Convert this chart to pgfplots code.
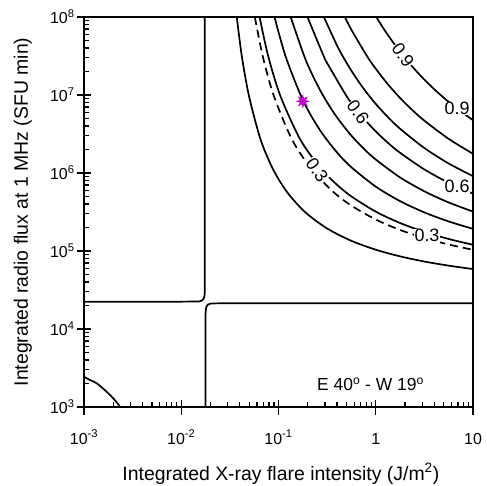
\documentclass[border=0pt]{standalone}
\usepackage{pgfplots}
\pgfplotsset{compat=1.18}
\usepackage{fontspec}
\setmainfont{Liberation Sans}
\definecolor{starmag}{RGB}{190,0,200}
\pgfdeclareplotmark{burst}{%
 \pgfpathmoveto{\pgfpointpolar{0}{\pgfplotmarksize}}%
 \pgfpathlineto{\pgfpointpolar{22.5}{0.45\pgfplotmarksize}}%
 \pgfpathlineto{\pgfpointpolar{45}{\pgfplotmarksize}}%
 \pgfpathlineto{\pgfpointpolar{67.5}{0.45\pgfplotmarksize}}%
 \pgfpathlineto{\pgfpointpolar{90}{\pgfplotmarksize}}%
 \pgfpathlineto{\pgfpointpolar{112.5}{0.45\pgfplotmarksize}}%
 \pgfpathlineto{\pgfpointpolar{135}{\pgfplotmarksize}}%
 \pgfpathlineto{\pgfpointpolar{157.5}{0.45\pgfplotmarksize}}%
 \pgfpathlineto{\pgfpointpolar{180}{\pgfplotmarksize}}%
 \pgfpathlineto{\pgfpointpolar{202.5}{0.45\pgfplotmarksize}}%
 \pgfpathlineto{\pgfpointpolar{225}{\pgfplotmarksize}}%
 \pgfpathlineto{\pgfpointpolar{247.5}{0.45\pgfplotmarksize}}%
 \pgfpathlineto{\pgfpointpolar{270}{\pgfplotmarksize}}%
 \pgfpathlineto{\pgfpointpolar{292.5}{0.45\pgfplotmarksize}}%
 \pgfpathlineto{\pgfpointpolar{315}{\pgfplotmarksize}}%
 \pgfpathlineto{\pgfpointpolar{337.5}{0.45\pgfplotmarksize}}%
 \pgfpathclose
 \pgfusepathqfillstroke}
\begin{document}
\begin{tikzpicture}
\begin{axis}[
 xmode=log, ymode=log,
 scale only axis, width=389bp, height=390bp,
 xmin=1e-3, xmax=10, ymin=1e3, ymax=1e8,
 axis on top,
 xtick={1e-3,1e-2,1e-1,1,10},
 xticklabels={10\textsuperscript{-3},10\textsuperscript{-2},10\textsuperscript{-1},1,10},
 ytick={1e3,1e4,1e5,1e6,1e7,1e8},
 yticklabels={10\textsuperscript{3},10\textsuperscript{4},10\textsuperscript{5},10\textsuperscript{6},10\textsuperscript{7},10\textsuperscript{8}},
 minor xtick={2e-3,3e-3,4e-3,5e-3,6e-3,7e-3,8e-3,9e-3,2e-2,3e-2,4e-2,5e-2,6e-2,7e-2,8e-2,9e-2,0.2,0.3,0.4,0.5,0.6,0.7,0.8,0.9,2,3,4,5,6,7,8,9},
 minor ytick={2e3,3e3,4e3,5e3,6e3,7e3,8e3,9e3,2e4,3e4,4e4,5e4,6e4,7e4,8e4,9e4,2e5,3e5,4e5,5e5,6e5,7e5,8e5,9e5,2e6,3e6,4e6,5e6,6e6,7e6,8e6,9e6,2e7,3e7,4e7,5e7,6e7,7e7,8e7,9e7},
 tick pos=left, tick align=inside,
 major tick length=7.5bp, minor tick length=5bp,
 every tick/.style={black, line width=1.3bp},
 extra x ticks={1e-3,1e-2,1e-1,1,10}, extra x tick labels={},
 extra x tick style={tick align=outside},
 extra y ticks={1e3,1e4,1e5,1e6,1e7,1e8}, extra y tick labels={},
 extra y tick style={tick align=outside},
 axis line style={line width=1.8bp},
 ticklabel style={font=\fontsize{16}{19}\selectfont},
 xticklabel style={anchor=base, yshift=-37bp},
 yticklabel style={xshift=-6bp},
 label style={font=\fontsize{19.5}{23}\selectfont},
 xlabel={Integrated X-ray flare intensity (J/m\textsuperscript{2})},
 ylabel={Integrated radio flux at 1 MHz (SFU min)},
 xlabel style={at={(axis description cs:0.506,-0.1872)}, anchor=base},
 ylabel style={at={(axis description cs:-0.144,0.5)}, anchor=base},
 ctr/.style={black, line width=1.7bp, smooth},
 brk/.style={black, line width=1.7bp},
]
% saddle contour, upper-left branch
\addplot[brk] coordinates {(0.001,22387) (0.010,22420) (0.015222,22522) (0.016346,23195) (0.017057,24604) (0.017338,26485) (0.01746,29785) (0.01748,42462) (0.01748,1e8)};
% saddle contour, lower-right branch
\addplot[brk] coordinates {(0.017758,1000) (0.017758,15104) (0.017882,17523) (0.01818,19432) (0.01884,20612) (0.02023,21228) (0.02503,21356) (10,21356)};
% lower-left corner contour
\addplot[ctr] coordinates {(0.001,2443) (0.001152,2219) (0.001352,2014) (0.00171,1570) (0.002,1291) (0.002307,1040) (0.002335,1000)};
% 0.2
\addplot[ctr] coordinates {(0.03724,1e8) (0.04193,3.162e7) (0.04945,1e7) (0.0628,3.162e6) (0.07418,1.778e6) (0.09204,1e6) (0.12337,5.623e5) (0.18717,3.162e5) (0.3162,1.944e5) (0.5623,1.35e5) (1,1.039e5) (1.778,8.54e4) (3.162,7.33e4) (5.623,6.49e4) (10,5.87e4)};
% dashed
\addplot[ctr, dash pattern=on 8bp off 5bp] coordinates {(0.05711,1e8) (0.0688,3.162e7) (0.08888,1e7) (0.12924,3.162e6) (0.16769,1.778e6) (0.2353,1e6) (0.3720,5.623e5) (0.5623,3.812e5) (1,2.532e5) (1.778,1.8625e5) (3.162,1.4665e5) (5.623,1.211e5) (10,1.0354e5)};
% 0.3
\addplot[ctr] coordinates {(0.06386,1e8) (0.07831,3.162e7) (0.10366,1e7) (0.15617,3.162e6) (0.2077,1.778e6) (0.3009,1e6) (0.3981,7.088e5) (0.5623,5.004e5) (1,3.197e5) (1.778,2.2845e5) (3.162,1.7588e5) (5.623,1.426e5) (10,1.2014e5)};
% 0.4
\addplot[ctr] coordinates {(0.09093,1e8) (0.11792,3.162e7) (0.16854,1e7) (0.21296,5.623e6) (0.28406,3.162e6) (0.40842,1.778e6) (0.5623,1.1836e6) (1,6.691e5) (1.778,4.36e5) (3.162,3.125e5) (5.623,2.393e5) (10,1.923e5)};
% 0.5
\addplot[ctr] coordinates {(0.13338,1e8) (0.18374,3.162e7) (0.2247,1.778e7) (0.28537,1e7) (0.3808,5.623e6) (0.5431,3.162e6) (0.7499,2.060e6) (1,1.489e6) (1.778,8.782e5) (3.162,5.824e5) (5.623,4.191e5) (10,3.202e5)};
% 0.6
\addplot[ctr] coordinates {(0.19848,1e8) (0.29114,3.162e7) (0.3162,2.567e7) (0.49295,1e7) (0.5623,7.92e6) (0.7499,5.036e6) (1,3.415e6) (1.3335,2.439e6) (1.778,1.816e6) (3.162,1.111e6) (5.623,7.497e5) (10,5.434e5)};
% 0.7
\addplot[ctr] coordinates {(0.29282,1e8) (0.3981,4.356e7) (0.45666,3.162e7) (0.5623,2.041e7) (0.7499,1.207e7) (1,7.691e6) (1.3335,5.204e6) (1.778,3.696e6) (3.162,2.09e6) (5.623,1.324e6) (10,9.114e5)};
% 0.8
\addplot[ctr] coordinates {(0.48118,1e8) (0.5623,6.841e7) (0.81152,3.162e7) (1,2.17e7) (1.3335,1.3705e7) (1.778,9.166e6) (2.3714,6.427e6) (3.162,4.686e6) (5.623,2.739e6) (10,1.765e6)};
% 0.9
\addplot[ctr] coordinates {(1.0139,1e8) (1.2589,6.521e7) (1.778,3.581e7) (2.3714,2.317e7) (3.162,1.574e7) (4.217,1.1135e7) (5.623,8.153e6) (7.499,6.149e6) (10,4.759e6)};
% contour labels
\node[font=\fontsize{18}{20}\selectfont, fill=white, inner sep=0.5bp, rotate=-55] at (axis cs:1.905,3.26e7) {0.9};
\node[font=\fontsize{18}{20}\selectfont, fill=white, inner sep=0.5bp, rotate=-55] at (axis cs:0.657,6.0e6) {0.6};
\node[font=\fontsize{18}{20}\selectfont, fill=white, inner sep=0.5bp, rotate=-55] at (axis cs:0.249,1.1e6) {0.3};
\node[font=\fontsize{18}{20}\selectfont, fill=white, inner sep=0.5bp] at (axis cs:6.85,6.7e6) {0.9};
\node[font=\fontsize{18}{20}\selectfont, fill=white, inner sep=0.5bp] at (axis cs:6.85,6.67e5) {0.6};
\node[font=\fontsize{18}{20}\selectfont, fill=white, inner sep=0.5bp] at (axis cs:3.365,1.57e5) {0.3};
% event marker
\addplot[only marks, mark=burst, mark size=6.3bp, color=starmag, fill=starmag, line width=0.4bp] coordinates {(0.178,8.3e6)};
\node[font=\fontsize{17.5}{20}\selectfont, anchor=base west, inner sep=0pt] at (axis cs:0.249,1618) {E 40\textsuperscript{o} - W 19\textsuperscript{o}};
\end{axis}
\pgfresetboundingbox
\path[use as bounding box] ([shift={(-84bp,-78bp)}]current axis.south west) rectangle ([shift={(14bp,17bp)}]current axis.north east);
\end{tikzpicture}
\end{document}
